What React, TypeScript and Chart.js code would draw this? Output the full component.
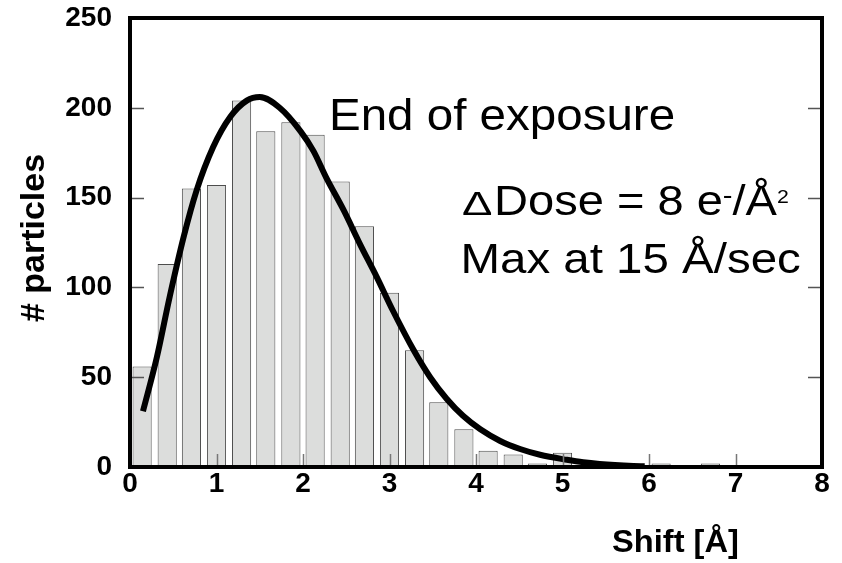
import React, { useEffect, useRef } from 'react';
import { Chart, registerables } from 'chart.js';

Chart.register(...registerables);

// Histogram bin centres (Shift, Å) and counts (# particles)
const binCenters = [
  0.14, 0.43, 0.71, 1.0, 1.29, 1.57, 1.86, 2.14, 2.43, 2.71, 3.0, 3.29, 3.57, 3.86,
  4.14, 4.43, 4.71, 5.0, 5.29, 5.57, 5.86, 6.14, 6.43, 6.71, 7.0, 7.29, 7.57, 7.86,
];
const particleCounts = [
  56, 113, 155, 157, 204, 187, 192, 185, 159, 134, 97, 65, 36, 21,
  9, 7, 2, 8, 1, 1, 0, 2, 0, 2, 0, 1, 0, 1,
];

// Fitted distribution curve
const fitShift = [
  0.15, 0.31, 0.46, 0.62, 0.77, 0.96, 1.16, 1.35, 1.5, 1.73, 1.97, 2.12, 2.27, 2.47,
  2.66, 2.85, 3.04, 3.28, 3.47, 3.66, 3.85, 4.05, 4.28, 4.51, 4.74, 5.05, 5.24, 5.43,
  5.82, 5.95,
];
const fitCount = [
  31, 61, 95, 128, 154, 178, 195, 204, 206, 200, 187, 176, 161, 143,
  124, 106, 87, 65, 50, 38, 28.5, 21, 14.5, 10, 6.8, 4, 2.6, 1.7,
  0.6, 0.4,
];

const xTickValues = [0, 1, 2, 3, 4, 5, 6, 7, 8];
const yTickValues = [0, 50, 100, 150, 200, 250];
const xInnerTicks = [1, 2, 3, 4, 5, 6, 7];
const yInnerTicks = [50, 100, 150, 200];

const xTitle = 'Shift [Å]';
const yTitle = '# particles';
const noteTitle = 'End of exposure';
const noteMax = 'Max at 15 Å/sec';

const FONT = '"Liberation Sans", Arial, Helvetica, sans-serif';

type Run = { text: string; size: number; weight?: string; dy?: number };

function drawRuns(ctx: CanvasRenderingContext2D, x0: number, baseline: number, sx: number, runs: Run[]) {
  ctx.save();
  ctx.translate(x0, baseline);
  ctx.scale(sx, 1);
  let x = 0;
  for (const r of runs) {
    ctx.font = `${r.weight || 'normal'} ${r.size}px ${FONT}`;
    ctx.fillText(r.text, x, r.dy || 0);
    x += ctx.measureText(r.text).width;
  }
  ctx.restore();
}

export default function App() {
  const ref = useRef<HTMLCanvasElement>(null);

  useEffect(() => {
    const canvas = ref.current;
    if (!canvas) return;

    const decorations = {
      id: 'decorations',
      afterDraw(chart: any) {
        const { ctx, chartArea: a, scales } = chart;
        const xs = scales.x;
        const ys = scales.y;
        ctx.save();
        // inner tick marks
        ctx.strokeStyle = '#555';
        ctx.lineWidth = 1.5;
        ctx.beginPath();
        yInnerTicks.forEach((v) => {
          const py = Math.round(ys.getPixelForValue(v)) + 0.5;
          ctx.moveTo(a.left, py);
          ctx.lineTo(a.left + 14, py);
          ctx.moveTo(a.right - 14, py);
          ctx.lineTo(a.right, py);
        });
        ctx.stroke();
        ctx.strokeStyle = '#777';
        ctx.beginPath();
        xInnerTicks.forEach((v) => {
          const px = Math.round(xs.getPixelForValue(v)) + 0.5;
          ctx.moveTo(px, a.bottom);
          ctx.lineTo(px, a.bottom - 13);
        });
        ctx.stroke();
        // frame
        ctx.strokeStyle = '#000';
        ctx.lineWidth = 4;
        ctx.strokeRect(a.left, a.top, a.right - a.left, a.bottom - a.top);

        // texts
        ctx.fillStyle = '#000';
        ctx.textAlign = 'left';
        ctx.textBaseline = 'alphabetic';
        drawRuns(ctx, 329, 130, 1.08, [{ text: noteTitle, size: 44 }]);
        drawRuns(ctx, 462, 215, 1.38, [{ text: 'Δ', size: 33 }]);
        drawRuns(ctx, 494, 215, 1.12, [
          { text: 'Dose = 8 e', size: 42 },
          { text: '-', size: 26, dy: -11 },
          { text: '/Å', size: 42 },
          { text: '2', size: 19, dy: -12 },
        ]);
        drawRuns(ctx, 460.5, 273, 1.13, [{ text: noteMax, size: 42 }]);

        // axis titles
        drawRuns(ctx, 612, 552, 1.02, [{ text: xTitle, size: 32, weight: 'bold' }]);
        ctx.save();
        ctx.translate(35, 238);
        ctx.rotate(-Math.PI / 2);
        ctx.textAlign = 'center';
        ctx.textBaseline = 'middle';
        ctx.font = `bold 34px ${FONT}`;
        ctx.fillText(yTitle, 0, 0);
        ctx.restore();

        ctx.restore();
      },
    };

    const tickFont = { family: FONT, size: 28, weight: 'bold' as const };

    const chart = new Chart(canvas, {
      type: 'bar',
      data: {
        datasets: [
          {
            type: 'line',
            data: fitShift.map((x, i) => ({ x, y: fitCount[i] })),
            borderColor: '#000',
            borderWidth: 6,
            pointRadius: 0,
            cubicInterpolationMode: 'monotone',
            fill: false,
            order: 0,
          } as any,
          {
            type: 'bar',
            data: binCenters.map((x, i) => ({ x, y: particleCounts[i] })),
            backgroundColor: '#dcdddc',
            borderColor: '#4d4d4d',
            borderWidth: 1,
            barPercentage: 0.79,
            categoryPercentage: 1,
            order: 1,
          } as any,
        ],
      },
      options: {
        responsive: false,
        animation: false,
        events: [],
        layout: { padding: { left: 0, top: 18, right: 20, bottom: 0 } },
        plugins: { legend: { display: false }, tooltip: { enabled: false } },
        scales: {
          x: {
            type: 'linear',
            min: 0,
            max: 8,
            offset: false,
            afterFit(s: any) {
              s.height = 96;
              s.paddingLeft = 0;
              s.paddingRight = 0;
            },
            afterBuildTicks(s: any) {
              s.ticks = xTickValues.map((v) => ({ value: v }));
            },
            grid: { display: false, drawTicks: false },
            border: { display: false },
            ticks: { font: tickFont, color: '#000', padding: 0, maxRotation: 0, autoSkip: false },
          },
          y: {
            type: 'linear',
            min: 0,
            max: 250,
            afterFit(s: any) {
              s.width = 130;
              s.paddingTop = 0;
              s.paddingBottom = 0;
            },
            afterBuildTicks(s: any) {
              s.ticks = yTickValues.map((v) => ({ value: v }));
            },
            grid: { display: false, drawTicks: false },
            border: { display: false },
            ticks: { font: tickFont, color: '#000', padding: 18 },
          },
        },
      } as any,
      plugins: [decorations],
    });

    return () => chart.destroy();
  }, []);

  return (
    <div style={{ position: 'fixed', left: 0, top: 0, width: 842, height: 563, background: '#fff' }}>
      <canvas ref={ref} width={842} height={563} style={{ width: 842, height: 563, display: 'block' }} />
    </div>
  );
}
